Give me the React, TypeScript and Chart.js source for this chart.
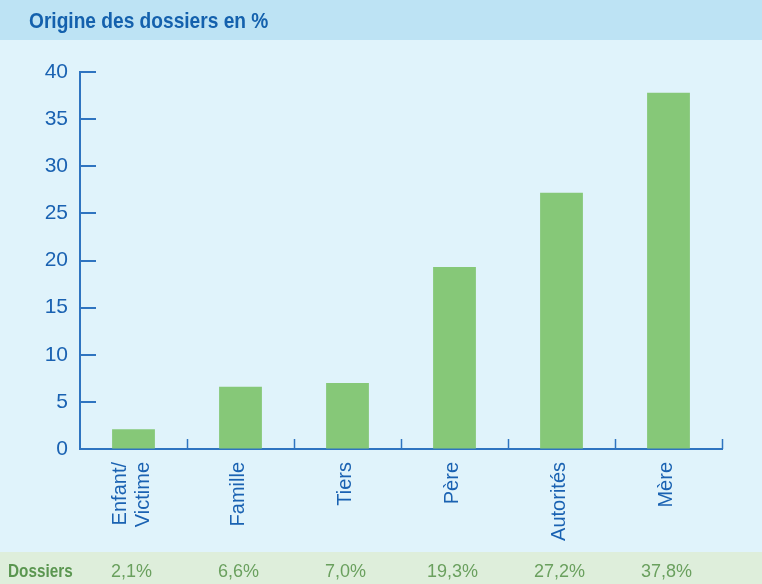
import React, { useEffect, useRef } from "react";
import { Chart, registerables } from "chart.js";
Chart.register(...registerables);

const title = "Origine des dossiers en %";
const categories: string[][] = [["Enfant/", "Victime"], ["Famille"], ["Tiers"], ["Père"], ["Autorités"], ["Mère"]];
const values = [2.1, 6.6, 7.0, 19.3, 27.2, 37.8];
const footerTitle = "Dossiers";
const footerLabels = ["2,1%", "6,6%", "7,0%", "19,3%", "27,2%", "37,8%"];
const yTicks = [0, 5, 10, 15, 20, 25, 30, 35, 40];

const BODY_BG = "#e0f3fb";
const HEAD_BG = "#bde3f4";
const FOOT_BG = "#deeedb";
const TITLE_C = "#1461ad";
const AXIS_C = "#2f74c0";
const LABEL_C = "#1a62b2";
const BAR_C = "#86c878";
const FOOT_C = "#6aa05e";
const FOOT_T = "#5a9650";
const SANS = '"Liberation Sans", Arial, sans-serif';

function condensedText(ctx: CanvasRenderingContext2D, text: string, x: number, y: number, squeeze: number) {
  ctx.save();
  ctx.translate(x, y);
  ctx.scale(squeeze, 1);
  ctx.fillText(text, 0, 0);
  ctx.restore();
}

const decor = {
  id: "decor",
  beforeDraw(chart: any) {
    const { ctx, width, height } = chart;
    ctx.save();
    ctx.fillStyle = BODY_BG;
    ctx.fillRect(0, 0, width, height);
    ctx.fillStyle = HEAD_BG;
    ctx.fillRect(0, 0, width, 40);
    ctx.fillStyle = FOOT_BG;
    ctx.fillRect(0, 552, width, height - 552);
    ctx.textBaseline = "middle";
    ctx.textAlign = "left";
    ctx.fillStyle = TITLE_C;
    ctx.font = `bold 22px ${SANS}`;
    condensedText(ctx, title, 29, 22, 0.87);
    ctx.fillStyle = FOOT_T;
    ctx.font = `bold 18px ${SANS}`;
    condensedText(ctx, footerTitle, 8, 572, 0.85);
    ctx.fillStyle = FOOT_C;
    ctx.font = `18px ${SANS}`;
    ctx.textAlign = "center";
    const xs = chart.scales.x;
    footerLabels.forEach((t, i) => {
      ctx.fillText(t, xs.getPixelForValue(i) - 2, 572);
    });
    ctx.restore();
  },
  afterDraw(chart: any) {
    const { ctx, chartArea: ca } = chart;
    const ys = chart.scales.y;
    const xs = chart.scales.x;
    ctx.save();
    ctx.strokeStyle = AXIS_C;
    ctx.lineWidth = 2;
    yTicks.forEach((v) => {
      const py = Math.round(ys.getPixelForValue(v));
      ctx.beginPath();
      ctx.moveTo(ca.left, py);
      ctx.lineTo(ca.left + 16, py);
      ctx.stroke();
    });
    ctx.lineWidth = 1.5;
    const n = categories.length;
    for (let i = 1; i <= n; i++) {
      const px = i < n ? (xs.getPixelForValue(i - 1) + xs.getPixelForValue(i)) / 2 : ca.right;
      ctx.beginPath();
      ctx.moveTo(Math.round(px) + 0.5, ca.bottom);
      ctx.lineTo(Math.round(px) + 0.5, ca.bottom - 10);
      ctx.stroke();
    }
    // rotated category labels
    ctx.fillStyle = LABEL_C;
    ctx.font = `20px ${SANS}`;
    ctx.textAlign = "right";
    ctx.textBaseline = "middle";
    const lh = 23;
    categories.forEach((lines, i) => {
      const cx = xs.getPixelForValue(i) - 2;
      ctx.save();
      ctx.translate(cx, ca.bottom + 13);
      ctx.rotate(-Math.PI / 2);
      lines.forEach((ln, j) => {
        ctx.fillText(ln, 0, (j - (lines.length - 1) / 2) * lh);
      });
      ctx.restore();
    });
    ctx.restore();
  },
};

export default function App() {
  const ref = useRef<HTMLCanvasElement>(null);
  useEffect(() => {
    document.body.style.margin = "0";
    const chart = new Chart(ref.current!, {
      type: "bar",
      data: {
        labels: categories.map((l) => l.join(" ")),
        datasets: [
          {
            data: values,
            backgroundColor: BAR_C,
            borderWidth: 0,
            barPercentage: 0.4,
            categoryPercentage: 1,
          },
        ],
      },
      options: {
        responsive: false,
        animation: false,
        layout: { padding: { top: 72, right: 40, left: 0, bottom: 0 } },
        plugins: { legend: { display: false }, tooltip: { enabled: false }, title: { display: false } },
        scales: {
          x: {
            grid: { drawOnChartArea: false, drawTicks: false, color: "transparent" },
            border: { display: true, color: AXIS_C, width: 2 },
            ticks: { display: false },
            afterFit: (s: any) => {
              s.height = 135;
            },
          },
          y: {
            min: 0,
            max: 40,
            grid: { drawOnChartArea: false, drawTicks: false, color: "transparent" },
            border: { display: true, color: AXIS_C, width: 2 },
            ticks: {
              stepSize: 5,
              color: LABEL_C,
              font: { family: SANS, size: 21 },
              padding: 12,
            },
            afterFit: (s: any) => {
              s.width = 80;
            },
          },
        },
      },
      plugins: [decor],
    });
    return () => chart.destroy();
  }, []);
  return (
    <div style={{ position: "absolute", left: 0, top: 0, width: 762, height: 584 }}>
      <canvas ref={ref} width={762} height={584} />
    </div>
  );
}
